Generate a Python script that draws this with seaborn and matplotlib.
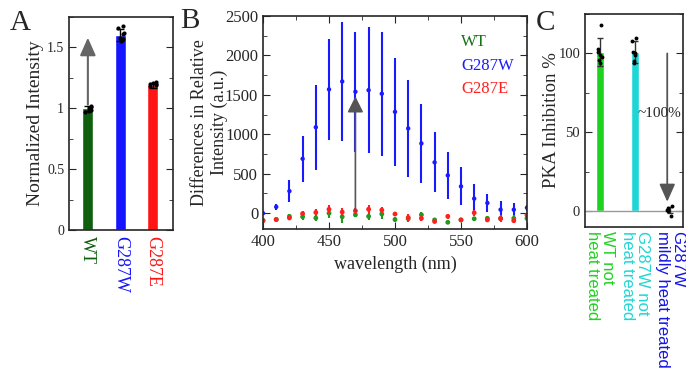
import matplotlib.pyplot as plt
import pandas as pd
import seaborn as sns
from matplotlib.ticker import MultipleLocator

sns.set_style('ticks')
plt.rcParams['font.family'] = ['Liberation Serif', 'DejaVu Serif']

# ---- panel A data
a_names = ['WT', 'G287W', 'G287E']
a_colors = ['#0f5f0f', '#1414ff', '#ff1414']
a_mean = [1.0, 1.6, 1.19]
a_sd = [0.02, 0.05, 0.02]
a_wt_pts = [0.98, 1.0, 1.01, 0.99, 1.02, 1.0, 0.97]
a_g287w_pts = [1.68, 1.66, 1.61, 1.58, 1.62, 1.55, 1.57]
a_g287e_pts = [1.2, 1.19, 1.21, 1.18, 1.22, 1.2]

# ---- panel B data
wl = [400, 410, 420, 430, 440, 450, 460, 470, 480, 490, 500,
      510, 520, 530, 540, 550, 560, 570, 580, 590, 600]
b_g287w = [0, 80, 280, 690, 1090, 1570, 1670, 1540, 1560, 1515, 1285,
           1075, 885, 645, 480, 340, 185, 130, 45, 45, 70]
b_g287w_err = [20, 40, 140, 290, 540, 640, 750, 760, 800, 785, 685,
               610, 505, 380, 300, 240, 190, 110, 110, 80, 40]
b_wt = [-90, -80, -40, -45, -60, 0, -45, -20, -40, -10, -80,
        -70, -20, -85, -115, -85, -70, -65, -65, -65, -65]
b_wt_err = [30, 30, 30, 40, 40, 60, 80, 30, 50, 60, 30,
            40, 40, 20, 20, 30, 20, 30, 40, 40, 30]
b_g287e = [-95, -80, -60, -5, 10, 50, 15, 30, 50, 40, -10,
           -55, -65, -105, -40, -85, 5, -85, -70, -95, -25]
b_g287e_err = [30, 20, 30, 30, 40, 50, 50, 40, 60, 40, 20,
               40, 30, 20, 30, 30, 40, 30, 30, 30, 30]

# ---- panel C data
c_names = ['WT not\nheat treated', 'G287W not\nheat treated', 'G287W\nmildly heat treated']
c_colors = ['#1fd21f', '#1fd6d6', '#1414e6']
c_mean = [101, 101, 0.6]
c_sd = [9, 7, 2]
c_wt_pts = [118, 103, 99, 98, 96, 94, 101]
c_g287w_pts = [110, 108, 101, 100, 95, 94, 99]
c_heat_pts = [3, 2, 1, 0, -3]

fig = plt.figure(figsize=(6.86, 3.83), dpi=100)

# ================= A
ax = fig.add_axes([0.1006, 0.3995, 0.1516, 0.5561])
sns.barplot(x=a_names, y=a_mean, hue=a_names, palette=a_colors, width=0.33,
            saturation=1, errorbar=None, legend=False, ax=ax)
ax.errorbar(range(3), a_mean, yerr=a_sd, fmt='none', ecolor='k', capsize=3, lw=1)
dfa = pd.DataFrame({'name': ['WT'] * len(a_wt_pts) + ['G287W'] * len(a_g287w_pts) + ['G287E'] * len(a_g287e_pts),
                    'val': a_wt_pts + a_g287w_pts + a_g287e_pts})
sns.stripplot(data=dfa, x='name', y='val', order=a_names, color='k', size=3, jitter=0.12, ax=ax)
ax.annotate('', xy=(0, 1.58), xytext=(0, 1.03),
            arrowprops=dict(arrowstyle='-|>,head_length=0.9,head_width=0.4', color='#666666',
                            lw=1.5, mutation_scale=12, shrinkA=0, shrinkB=0))
ax.set_xlim(-0.58, 2.62)
ax.set_ylim(0, 1.75)
ax.set_yticks([0, 0.5, 1, 1.5])
ax.set_yticklabels(['0', '0.5', '1', '1.5'], fontsize=10)
ax.yaxis.set_minor_locator(MultipleLocator(0.25))
ax.tick_params(axis='y', which='both', direction='in', left=True, right=True)
ax.tick_params(axis='y', which='major', length=5)
ax.tick_params(axis='y', which='minor', length=3)
ax.tick_params(axis='x', length=0, pad=4)
ax.set_xticks(range(3))
ax.set_xticklabels(a_names, rotation=-90, fontsize=13, va='top', ha='center')
for lbl, c in zip(ax.get_xticklabels(), a_colors):
    lbl.set_color(c)
ax.set_xlabel('')
ax.set_ylabel('Normalized Intensity', fontsize=14, labelpad=2)
for s in ax.spines.values():
    s.set_linewidth(1.2)

# ================= B
ax = fig.add_axes([0.3834, 0.4021, 0.3848, 0.5561])
ax.errorbar(wl, b_g287w, yerr=b_g287w_err, fmt='none', ecolor='#1a1aff', lw=1.5)
sns.scatterplot(x=wl, y=b_g287w, color='#1a1aff', s=10, edgecolor='none', ax=ax)
ax.errorbar(wl, b_wt, yerr=b_wt_err, fmt='none', ecolor='#1f9a1f', lw=1.5)
sns.scatterplot(x=wl, y=b_wt, color='#1f9a1f', s=12, edgecolor='none', ax=ax)
ax.errorbar(wl, b_g287e, yerr=b_g287e_err, fmt='none', ecolor='#ff2020', lw=1.5)
sns.scatterplot(x=wl, y=b_g287e, color='#ff2020', s=12, edgecolor='none', ax=ax)
ax.annotate('', xy=(470, 1480), xytext=(470, 30),
            arrowprops=dict(arrowstyle='-|>,head_length=0.8,head_width=0.4', color='#555555',
                            lw=1.2, mutation_scale=12, shrinkA=0, shrinkB=0))
ax.set_xlim(400, 600)
ax.set_ylim(-200, 2500)
ax.set_xticks([400, 450, 500, 550, 600])
ax.set_yticks([0, 500, 1000, 1500, 2000, 2500])
ax.xaxis.set_minor_locator(MultipleLocator(25))
ax.yaxis.set_minor_locator(MultipleLocator(250))
ax.tick_params(which='both', direction='in', top=True, right=True, labelsize=12)
ax.tick_params(which='major', length=5)
ax.tick_params(which='minor', length=3)
ax.set_xlabel('wavelength (nm)', fontsize=13)
ax.set_ylabel('Differences in Relative\nIntensity (a.u.)', fontsize=13, linespacing=1.15, labelpad=-2)
leg_names = ['WT', 'G287W', 'G287E']
leg_colors = ['#137313', '#1a1aff', '#ff2020']
handles = [plt.Line2D([], [], color=c) for c in leg_colors]
leg = ax.legend(handles, leg_names, loc='upper left', bbox_to_anchor=(0.695, 0.985), frameon=False,
                handlelength=0, handletextpad=0, fontsize=12, labelspacing=0.45)
for h in leg.legend_handles:
    h.set_visible(False)
for t, c in zip(leg.get_texts(), leg_colors):
    t.set_color(c)
for s in ax.spines.values():
    s.set_linewidth(1.2)

# ================= C
ax = fig.add_axes([0.8528, 0.4073, 0.1428, 0.5561])
ax.axhline(0, color='#999999', lw=1)
sns.barplot(x=c_names, y=c_mean, hue=c_names, palette=c_colors, width=0.21,
            saturation=1, errorbar=None, legend=False, ax=ax)
ax.errorbar(range(3), c_mean, yerr=c_sd, fmt='none', ecolor='#333333', capsize=2.5, lw=1)
dfc = pd.DataFrame({'name': [c_names[0]] * len(c_wt_pts) + [c_names[1]] * len(c_g287w_pts) + [c_names[2]] * len(c_heat_pts),
                    'val': c_wt_pts + c_g287w_pts + c_heat_pts})
sns.stripplot(data=dfc, x='name', y='val', order=c_names, color='k', size=2.8, jitter=0.08, ax=ax)
ax.annotate('', xy=(1.92, 6), xytext=(1.92, 100),
            arrowprops=dict(arrowstyle='-|>,head_length=0.9,head_width=0.4', color='#555555',
                            lw=1.3, mutation_scale=12, shrinkA=0, shrinkB=0))
ax.text(1.08, 62, '~100%', fontsize=11, va='center', ha='left', clip_on=True)
ax.set_xlim(-0.43, 2.37)
ax.set_ylim(-10, 125)
ax.set_yticks([0, 50, 100])
ax.set_yticklabels(['0', '50', '100'], fontsize=10.5)
ax.yaxis.set_minor_locator(MultipleLocator(25))
ax.tick_params(axis='y', which='both', direction='in', left=True, right=True)
ax.tick_params(axis='y', which='major', length=5)
ax.tick_params(axis='y', which='minor', length=3)
ax.tick_params(axis='x', length=0, pad=3)
ax.set_xticks(range(3))
ax.set_xticklabels(c_names, rotation=-90, fontsize=12, va='top', ha='center',
                   family=['Liberation Sans', 'DejaVu Sans'], multialignment='left', linespacing=0.95)
for lbl, c in zip(ax.get_xticklabels(), c_colors):
    lbl.set_color(c)
ax.set_xlabel('')
ax.set_ylabel('PKA Inhibition %', fontsize=13.5, labelpad=-1)
for s in ax.spines.values():
    s.set_linewidth(1.2)

fig.text(0.014, 0.975, 'A', fontsize=21, va='top', ha='left')
fig.text(0.263, 0.978, 'B', fontsize=21, va='top', ha='left')
fig.text(0.781, 0.975, 'C', fontsize=21, va='top', ha='left')

fig.savefig('out.png', dpi=100)
